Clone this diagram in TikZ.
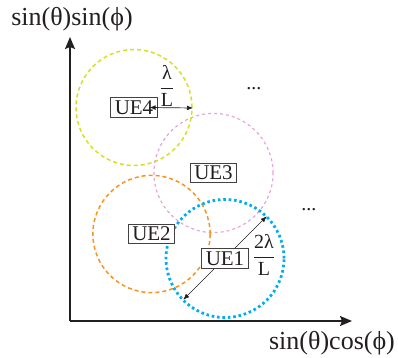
\documentclass[tikz,border=0pt]{standalone}
\usepackage{amsmath}
\usepackage{fontspec}
\setmainfont{Liberation Serif}
\usetikzlibrary{arrows.meta}
\definecolor{ink}{HTML}{231F20}
\definecolor{uegreen}{HTML}{D7DF23}
\definecolor{uepink}{HTML}{E2A6D8}
\definecolor{ueorange}{HTML}{F7941D}
\definecolor{ueblue}{HTML}{00AEEF}

\begin{document}
\begin{tikzpicture}[x=0.5pt,y=-0.5pt,
    uebox/.style={draw=ink!85, fill=white, line width=0.5pt, inner xsep=1.9pt, inner ysep=1.3pt, text=ink, font=\fontsize{10.5}{12}\selectfont},
    axislbl/.style={text=ink, font=\fontsize{13}{15}\selectfont},
    beam/.style={line width=0.75pt, dash pattern=on 2pt off 1.5pt},
    axis/.style={ink, line width=0.8pt, -{Stealth[length=6pt,width=5pt,inset=1pt]}},
    span/.style={ink, line width=0.35pt, {Latex[length=3pt,width=2.4pt]}-{Latex[length=3pt,width=2.4pt]}}]
  \useasboundingbox (0,0) rectangle (398,358);
  % axes
  \coordinate (o) at (70,321);
  \coordinate (ytip) at (70,37);
  \coordinate (xtip) at (352,321);
  \draw[axis] (o) -- (ytip);
  \draw[axis] (o) -- (xtip);
  \node[axislbl] (ylab) at (72,19) {sin(θ)sin(ϕ)};
  \node[axislbl] (xlab) at (332,343) {sin(θ)cos(ϕ)};
  % beams
  \coordinate (c4) at (134,107.5);
  \coordinate (c3) at (213.5,173);
  \coordinate (c2) at (151.5,234);
  \coordinate (c1) at (225,258.5);
  \draw[uegreen, beam] (c4) circle[radius=29pt];
  \draw[uepink, line width=0.6pt, dash pattern=on 1.5pt off 1.5pt] (c3) circle[radius=29.8pt];
  \draw[ueorange, beam] (c2) circle[radius=29.3pt];
  \draw[ueblue, line width=1.4pt, dash pattern=on 1.3pt off 1.4pt] (c1) circle[radius=29.5pt];
  % diameter of UE1
  \coordinate (a1) at (183.3,299.7);
  \coordinate (b1) at (266.7,216.3);
  \draw[span] (a1) -- (b1);
  % users
  \node[uebox] (ue1) at (c1) {UE1};
  \node[uebox] (ue2) at (c2) {UE2};
  \node[uebox] (ue3) at (c3) {UE3};
  \node[uebox] (ue4) at (c4) {UE4};
  % radius of UE4
  \coordinate (e4) at (193,108);
  \draw[span] ([xshift=-4pt]ue4.east) -- (e4);
  \node[text=ink] (wl) at (167,86) {$\dfrac{\text{λ}}{\text{L}}$};
  \node[text=ink] (wl2) at (264,255) {$\dfrac{\text{2λ}}{\text{L}}$};
  \node[text=ink] (dots1) at (254,89) {...};
  \node[text=ink] (dots2) at (309,210) {...};
\end{tikzpicture}
\end{document}
